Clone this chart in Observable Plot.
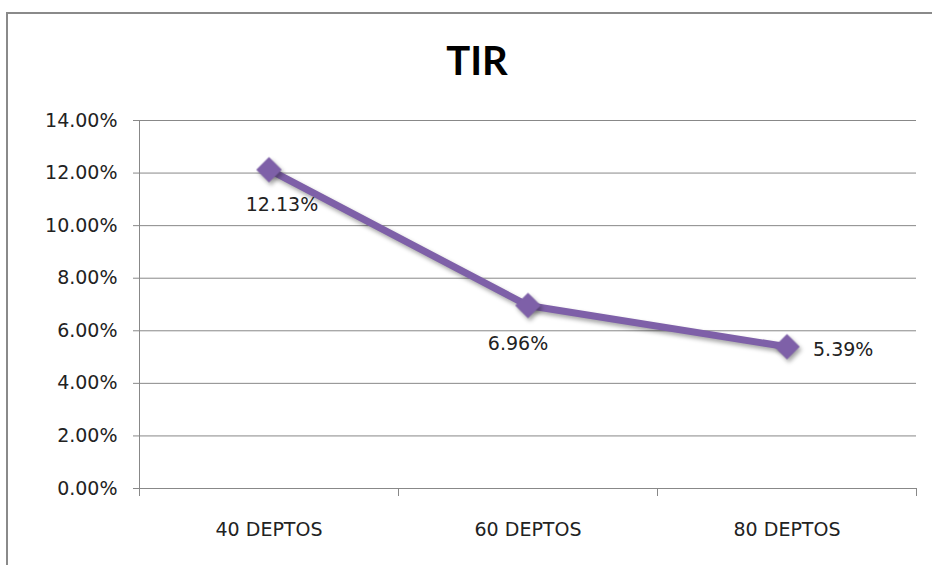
<!DOCTYPE html>
<html>
<head>
<meta charset="utf-8">
<script src="https://cdn.jsdelivr.net/npm/d3@7"></script>
<script src="https://cdn.jsdelivr.net/npm/@observablehq/plot@0.6"></script>
<style>
  html, body { margin: 0; padding: 0; background: #fff; }
  body { position: relative; width: 932px; height: 565px; overflow: hidden; }
  #frame { position: absolute; left: 6px; top: 12px; width: 960px; height: 600px; border: 2px solid #8a8a8a; box-sizing: border-box; }
  #title { position: relative; height: 100px; box-sizing: border-box; padding-top: 40px; padding-left: 22px; text-align: center; font-family: Lato, sans-serif; font-weight: bold; font-size: 40px; line-height: 40px; color: #000; }
  #chart { position: relative; }
</style>
</head>
<body>
<div id="frame"></div>
<div id="title">TIR</div>
<div id="chart"></div>
<script>
const categories = ["40 DEPTOS", "60 DEPTOS", "80 DEPTOS"];
const tir = [0.1213, 0.0696, 0.0539];
const yTicks = [0, 0.02, 0.04, 0.06, 0.08, 0.10, 0.12, 0.14];

const purple = "#7e60a8";
const gridColor = "#888888";
const textColor = "#222222";
const fmt = d3.format(".2%");

const data = categories.map((c, i) => ({cat: c, i, x: i + 0.5, y: tir[i]}));
const boundaries = d3.range(categories.length + 1);
const centers = categories.map((c, i) => i + 0.5);

const plot = Plot.plot({
  width: 932,
  height: 465,
  marginLeft: 139,
  marginRight: 16,
  marginTop: 20,
  marginBottom: 77,
  style: {fontFamily: "'DejaVu Sans', sans-serif", fontSize: "19px", color: textColor, background: "transparent", overflow: "visible"},
  x: {type: "linear", domain: [0, categories.length], axis: null},
  y: {domain: [0, 0.14], axis: null},
  marks: [
    Plot.gridY(yTicks, {stroke: gridColor, strokeOpacity: 1}),
    Plot.ruleX([0], {stroke: gridColor}),
    Plot.axisY(yTicks, {tickFormat: fmt, tickSize: 6, tickPadding: 16, stroke: gridColor, fill: textColor, fontSize: 19, label: null}),
    Plot.axisX(boundaries, {tickFormat: () => "", tickSize: 8, stroke: gridColor, label: null}),
    Plot.axisX(centers, {tickFormat: d => categories[Math.round(d - 0.5)], tickSize: 0, tickPadding: 34, fill: textColor, fontSize: 19, label: null}),
    Plot.lineY(data, {x: "x", y: "y", stroke: purple, strokeWidth: 7}),
    Plot.dot(data, {x: "x", y: "y", symbol: "diamond2", r: 11.5, fill: purple, stroke: null}),
    Plot.text(data, {filter: d => d.i === 0, x: "x", y: "y", text: d => fmt(d.y), dx: 13, dy: 35, fill: textColor, fontSize: 19}),
    Plot.text(data, {filter: d => d.i === 1, x: "x", y: "y", text: d => fmt(d.y), dx: -10, dy: 38, fill: textColor, fontSize: 19}),
    Plot.text(data, {filter: d => d.i === 2, x: "x", y: "y", text: d => fmt(d.y), dx: 26, dy: 3, textAnchor: "start", fill: textColor, fontSize: 19})
  ]
});
d3.select(plot).selectAll("g[aria-label=line], g[aria-label=dot]")
  .style("filter", "drop-shadow(2px 3px 2px rgba(0,0,0,0.35))");
document.getElementById("chart").appendChild(plot);
</script>
</body>
</html>
